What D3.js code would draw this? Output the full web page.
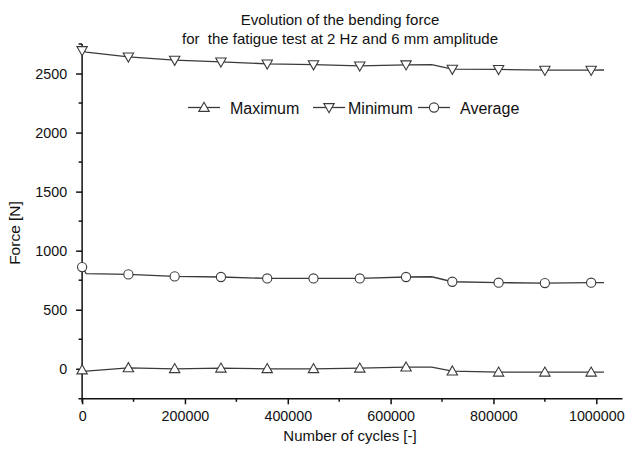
<!DOCTYPE html>
<html>
<head>
<meta charset="utf-8">
<script src="https://cdn.jsdelivr.net/npm/d3@7"></script>
<style>
  html, body { margin: 0; padding: 0; background: #fff; }
  svg { display: block; font-family: "Liberation Sans", Arial, sans-serif; }
</style>
</head>
<body>
<svg id="chart" width="625" height="453"></svg>
<script>
// ---- data ----
const traceCycles = [0, 8000, 90000, 180000, 270000, 360000, 450000, 540000, 630000, 680000, 720000, 810000, 900000, 990000, 1015000];
const minimumForce = [2695, 2682, 2641, 2613, 2599, 2582, 2575, 2565, 2574, 2576, 2537, 2535, 2528, 2528, 2530];
const averageForce = [861, 805, 799, 782, 777, 765, 765, 765, 777, 779, 737, 729, 726, 729, 729];
const maximumForce = [-10, -20, 8, 0, 5, 0, 0, 5, 14, 14, -20, -29, -29, -29, -29];
const markerStep = 90000;

const xTicks = [0, 200000, 400000, 600000, 800000, 1000000];
const xMinorTicks = [100000, 300000, 500000, 700000, 900000];
const yTicks = [0, 500, 1000, 1500, 2000, 2500];
const yMinorTicks = [250, 750, 1250, 1750, 2250, 2750];

const legendLabels = ["Maximum", "Minimum", "Average"];
const titleLines = ["Evolution of the bending force", "for  the fatigue test at 2 Hz and 6 mm amplitude"];
const xTitle = "Number of cycles [-]";
const yTitle = "Force [N]";

// ---- layout ----
const svg = d3.select("#chart");
const x = d3.scaleLinear().domain([-8000, 1050000]).range([78, 622]);
const y = d3.scaleLinear().domain([-250, 2750]).range([398.3, 44]);
const ink = "#111";
const lineInk = "#3a3a3a";

// title
svg.append("g").selectAll("text").data(titleLines).join("text")
  .attr("x", 340).attr("y", (d, i) => 25 + i * 19)
  .attr("text-anchor", "middle").attr("font-size", 15).attr("fill", ink)
  .style("white-space", "pre").attr("xml:space", "preserve")
  .text(d => d);

// x axis
const xAxisG = svg.append("g").attr("transform", `translate(0,${y(-250)})`);
xAxisG.call(d3.axisBottom(x).tickValues(xTicks).tickFormat(d3.format("d")).tickSize(6).tickSizeOuter(0).tickPadding(7));
xAxisG.append("g").selectAll("line").data(xMinorTicks).join("line")
  .attr("x1", d => x(d)).attr("x2", d => x(d)).attr("y1", 0).attr("y2", 3.5);
xAxisG.selectAll("line").attr("stroke", ink).attr("stroke-width", 1.5);
xAxisG.select(".domain").attr("stroke", ink).attr("stroke-width", 1.5);
xAxisG.selectAll("text").attr("font-size", 14.3).attr("fill", ink).attr("font-family", "Liberation Sans, Arial, sans-serif");

// y axis
const yAxisG = svg.append("g").attr("transform", `translate(${x(0)},0)`);
yAxisG.call(d3.axisLeft(y).tickValues(yTicks).tickFormat(d3.format("d")).tickSize(6).tickSizeOuter(0).tickPadding(9));
yAxisG.append("g").selectAll("line").data(yMinorTicks).join("line")
  .attr("x1", 0).attr("x2", -3.5).attr("y1", d => y(d)).attr("y2", d => y(d));
yAxisG.selectAll("line").attr("stroke", ink).attr("stroke-width", 1.5);
yAxisG.select(".domain").attr("stroke", ink).attr("stroke-width", 1.5)
  .attr("d", `M0,${y(2750)}V${y(-250) + 4}`);
yAxisG.selectAll("text").attr("font-size", 14.3).attr("fill", ink).attr("font-family", "Liberation Sans, Arial, sans-serif");

// axis titles
svg.append("text").attr("x", 350).attr("y", 441).attr("text-anchor", "middle")
  .attr("font-size", 15).attr("fill", ink).text(xTitle);
svg.append("text").attr("transform", "translate(20,233) rotate(-90)").attr("text-anchor", "middle")
  .attr("font-size", 15.5).attr("fill", ink).text(yTitle);

// series
const series = [
  { name: legendLabels[0], values: maximumForce, shape: "up" },
  { name: legendLabels[1], values: minimumForce, shape: "down" },
  { name: legendLabels[2], values: averageForce, shape: "circle" }
];

const tri = 5.2;
function markerPath(shape) {
  if (shape === "up") return `M0,${-tri}L${tri},${tri * 0.75}L${-tri},${tri * 0.75}Z`;
  if (shape === "down") return `M0,${tri}L${tri},${-tri * 0.75}L${-tri},${-tri * 0.75}Z`;
  return null;
}
function drawMarker(g, shape, cx, cy) {
  if (shape === "circle") {
    g.append("circle").attr("cx", cx).attr("cy", cy).attr("r", 4.6)
      .attr("fill", "#fff").attr("stroke", lineInk).attr("stroke-width", 1.1);
  } else {
    g.append("path").attr("d", markerPath(shape)).attr("transform", `translate(${cx},${cy})`)
      .attr("fill", "#fff").attr("stroke", lineInk).attr("stroke-width", 1.1);
  }
}

const line = d3.line().x(d => x(d[0])).y(d => y(d[1]));
series.forEach(s => {
  const pts = traceCycles.map((c, i) => [c, s.values[i]]);
  svg.append("path").datum(pts).attr("d", line)
    .attr("fill", "none").attr("stroke", lineInk).attr("stroke-width", 1.3);
  const g = svg.append("g");
  pts.filter(p => p[0] % markerStep === 0).forEach(p => drawMarker(g, s.shape, x(p[0]), y(p[1])));
});

// legend
const legendItems = [
  { x1: 188, text: 230 },
  { x1: 313, text: 348 },
  { x1: 418, text: 460 }
];
const legendY = 107.5;
series.forEach((s, i) => {
  const it = legendItems[i];
  const g = svg.append("g");
  g.append("line").attr("x1", it.x1).attr("x2", it.x1 + 32).attr("y1", legendY).attr("y2", legendY)
    .attr("stroke", lineInk).attr("stroke-width", 1.3);
  drawMarker(g, s.shape, it.x1 + 16, legendY);
  g.append("text").attr("x", it.text).attr("y", legendY + 6).attr("font-size", 16).attr("fill", ink).text(s.name);
});
</script>
</body>
</html>
